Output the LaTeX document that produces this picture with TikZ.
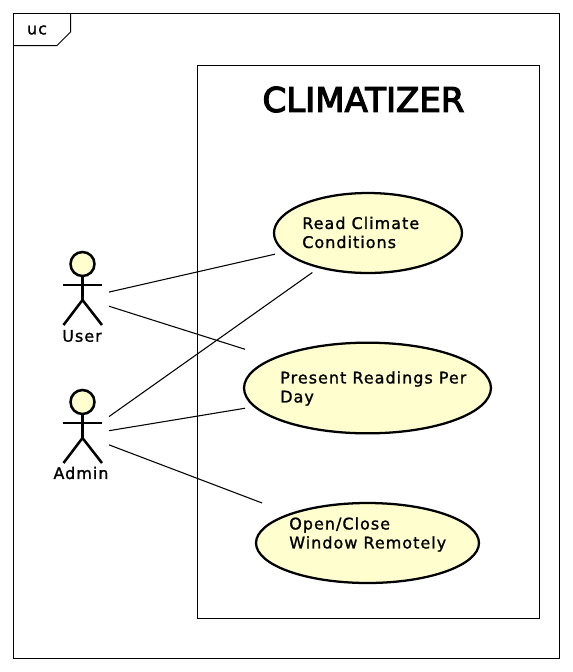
\documentclass[tikz,border=0pt]{standalone}
\usepackage{fontspec}
\setmainfont{DejaVu Sans}[LetterSpace=6.3,FakeBold=1.2]
\newfontfamily\titlefont{DejaVu Sans}[FakeBold=3.5]
\usetikzlibrary{calc}
\definecolor{ucfill}{HTML}{FEFECE}
\tikzset{
  x=0.75pt,y=-0.75pt,
  frameline/.style={draw=black,line width=0.75pt},
  ucshape/.style={draw=black,fill=ucfill,line width=1.7pt},
  limb/.style={draw=black,line width=1.9pt},
  link/.style={draw=black,line width=0.8pt},
  hub/.style={rectangle,inner sep=0pt,outer sep=0pt},
  actorbox/.style={hub,minimum width=39pt,minimum height=60pt},
  uctext/.style={anchor=west,align=left,inner sep=0pt,font=\fontsize{12pt}{14.25pt}\selectfont},
  actortext/.style={inner sep=0pt,font=\fontsize{12pt}{14.25pt}\selectfont}
}
\newcommand{\drawactor}[1]{%
  \begin{scope}[shift={(#1)}]
    \draw[limb,fill=ucfill] (0,-33) circle[radius=9pt];
    \draw[limb] (0,-21) -- (0,3);
    \draw[limb] (-20,-12) -- (19.5,-12);
    \draw[limb] (-19,28) -- (0,3) -- (19.5,28);
  \end{scope}}
\begin{document}
\begin{tikzpicture}
\useasboundingbox (0,0) rectangle (572,672);
\fill[white] (0,0) rectangle (572,672);
% frame
\draw[frameline] (13.5,13.5) rectangle (559.5,658.5);
\draw[frameline] (70.5,13.5) -- (70.5,32) -- (57,45.5) -- (13.5,45.5);
\node[inner sep=0pt,font=\fontsize{12pt}{13pt}\selectfont] (frametag) at (37,30) {uc};
% system boundary
\draw[frameline] (197.5,65.5) rectangle (539.5,618.5);
\node[inner sep=0pt,font=\titlefont\fontsize{25.5pt}{28pt}\selectfont] (system) at (363.5,99.5) {CLIMATIZER};
% hubs
\node[actorbox] (user) at (83,298) {};
\node[actorbox] (admin) at (83,435) {};
\node[hub,minimum width=139.5pt,minimum height=59.25pt] (read) at (368,233) {};
\node[hub,minimum width=183.75pt,minimum height=68.25pt] (present) at (367.5,388) {};
\node[hub,minimum width=167.25pt,minimum height=60pt] (open) at (367.5,543) {};
% connectors
\draw[link] (user) -- (read);
\draw[link] (user) -- (present);
\draw[link] (admin) -- (read);
\draw[link] (admin) -- (present);
\draw[link] (admin) -- (open);
% use cases
\draw[ucshape] (read.center) ellipse[x radius=70.5pt,y radius=30pt];
\draw[ucshape] (present.center) ellipse[x radius=92.6pt,y radius=34pt];
\draw[ucshape] (open.center) ellipse[x radius=83.6pt,y radius=30pt];
\node[uctext] (readlabel) at (302,232.5) {Read Climate\\Conditions};
\node[uctext] (presentlabel) at (280,388.5) {Present Readings Per\\Day};
\node[uctext] (openlabel) at (289,534.5) {Open/Close\\Window Remotely};
% actors
\drawactor{82.5,297}
\drawactor{82.5,435}
\node[actortext] (userlabel) at (82,336) {User};
\node[actortext] (adminlabel) at (81,473) {Admin};
\end{tikzpicture}
\end{document}
